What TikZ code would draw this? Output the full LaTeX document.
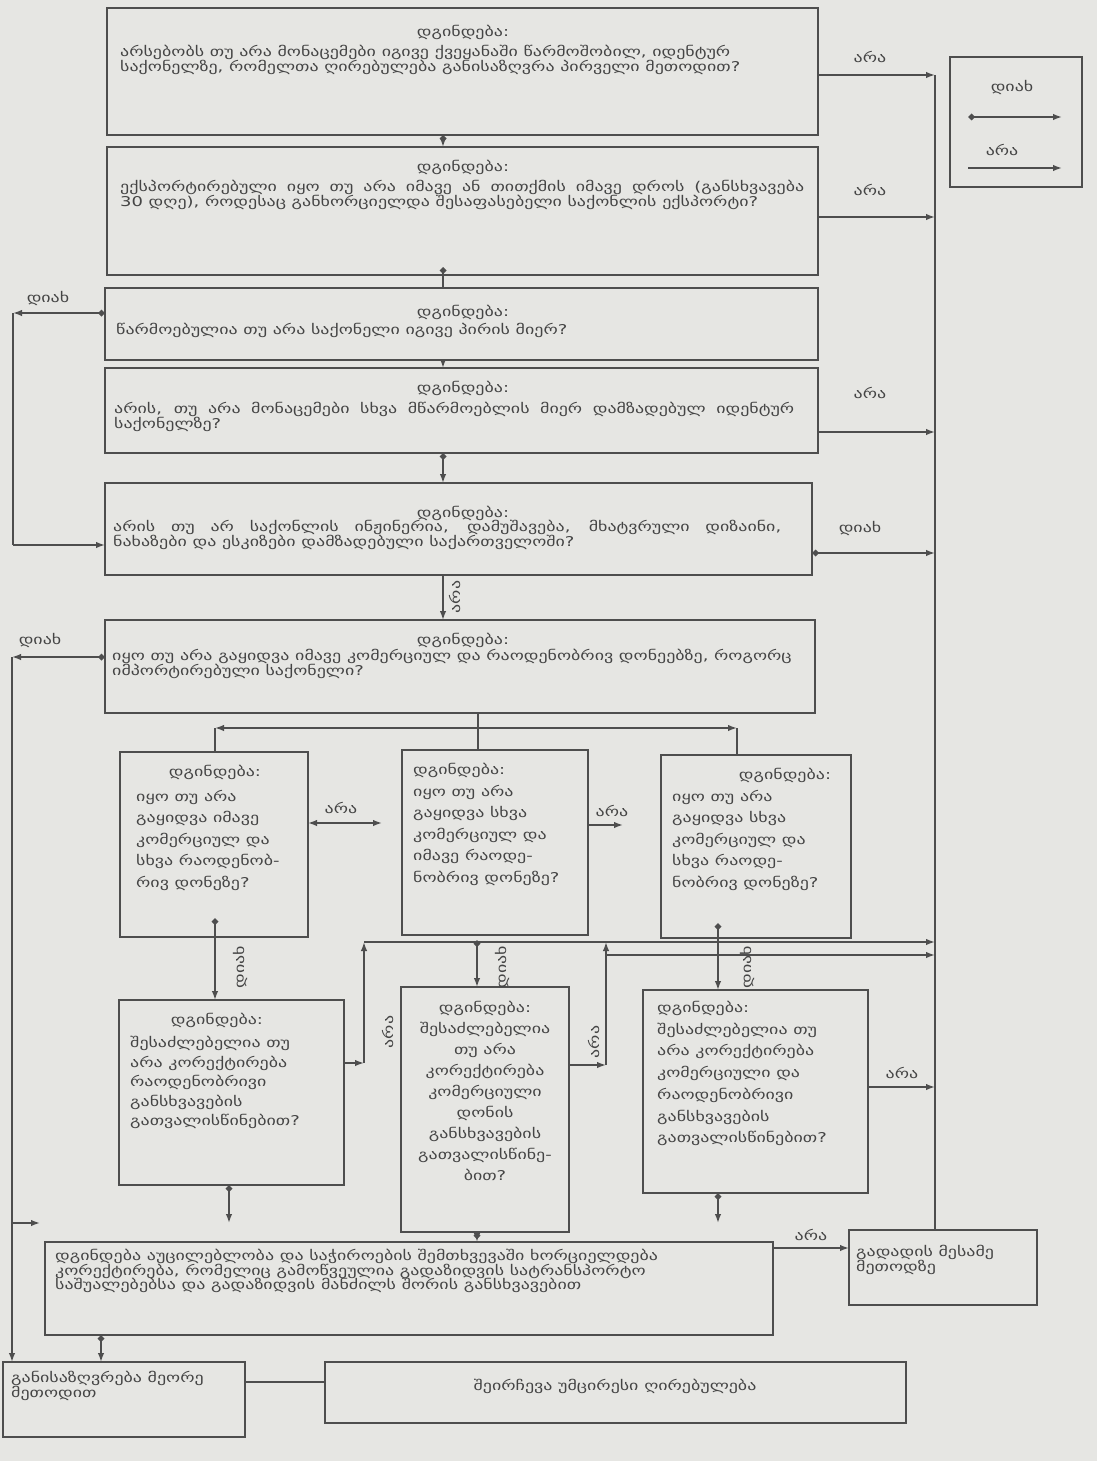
\documentclass[tikz,border=0pt]{standalone}
\usepackage{fontspec}
\setmainfont{DejaVu Sans}[FakeStretch=1.33]
\usetikzlibrary{arrows.meta}
\definecolor{bgc}{HTML}{E6E6E3}
\definecolor{linec}{HTML}{4E4E4E}
\definecolor{textc}{HTML}{454545}
\newcommand\fbig{\fontsize{13.5}{14.5}\selectfont}
\newcommand\fsmall{\fontsize{13.5}{21.5}\selectfont}
\newcommand\mybox[5]{\node[box,minimum width=#4pt,minimum height=#5pt] (#1) at (#2,#3) {};}
\begin{document}
\begin{tikzpicture}[x=1pt,y=-1pt,
  box/.style={draw=linec,line width=1.2pt,anchor=north west,inner sep=0pt,outer sep=0pt},
  ttl/.style={inner sep=0pt,text=textc,font=\fbig},
  bodyL/.style={anchor=north west,inner sep=0pt,text=textc,font=\fbig,align=left},
  bodyJ/.style={anchor=north west,inner sep=0pt,text=textc,font=\fbig,align=justify},
  smallL/.style={anchor=north west,inner sep=0pt,text=textc,font=\fsmall,align=left},
  smallC/.style={anchor=north,inner sep=0pt,text=textc,font=\fsmall,align=center},
  lbl/.style={inner sep=0pt,text=textc,font=\fbig},
  conn/.style={draw=linec,line width=1.6pt},
  no/.style={conn,-{Latex[length=9pt,width=6.5pt]}},
  yes/.style={conn,{Diamond[length=7pt,width=7pt]}-{Latex[length=9pt,width=6.5pt]}},
  yesline/.style={conn,{Diamond[length=7pt,width=7pt]}-},
  both/.style={conn,{Latex[length=9pt,width=6.5pt]}-{Latex[length=9pt,width=6.5pt]}}]
\useasboundingbox (0,0) rectangle (1097,1461);
\fill[bgc] (0,0) rectangle (1097,1461);

% ---- boxes
\mybox{b1}{107}{8}{711}{127}
\mybox{b2}{107}{147}{711}{128}
\mybox{b3}{105}{288}{713}{72}
\mybox{b4}{105}{368}{713}{85}
\mybox{b5}{105}{483}{707}{92}
\mybox{b6}{105}{620}{710}{93}
\mybox{ba}{120}{752}{188}{185}
\mybox{bb}{402}{750}{186}{185}
\mybox{bc}{661}{755}{190}{183}
\mybox{bd}{119}{1000}{225}{185}
\mybox{be}{401}{987}{168}{245}
\mybox{bf}{643}{990}{225}{203}
\mybox{bg}{45}{1242}{728}{93}
\mybox{bh}{849}{1230}{188}{75}
\mybox{bi}{3}{1362}{242}{75}
\mybox{bj}{325}{1362}{581}{61}
\mybox{leg}{950}{57}{132}{130}

% ---- texts
\node[ttl] (h1) at (463,32) {დგინდება:};
\node[bodyL] (t1) at (120,45) {არსებობს თუ არა მონაცემები იგივე ქვეყანაში წარმოშობილ, იდენტურ\\საქონელზე, რომელთა ღირებულება განისაზღვრა პირველი მეთოდით?};
\node[ttl] (h2) at (463,167) {დგინდება:};
\node[bodyJ,text width=684pt] (t2) at (120,180) {ექსპორტირებული იყო თუ არა იმავე ან თითქმის იმავე დროს (განსხვავება\linebreak 30 დღე), როდესაც განხორციელდა შესაფასებელი საქონლის ექსპორტი?};
\node[ttl] (h3) at (463,312) {დგინდება:};
\node[bodyL] (t3) at (116,323) {წარმოებულია თუ არა საქონელი იგივე პირის მიერ?};
\node[ttl] (h4) at (463,388) {დგინდება:};
\node[bodyJ,text width=680pt] (t4) at (114,402) {არის, თუ არა მონაცემები სხვა მწარმოებლის მიერ დამზადებულ იდენტურ\linebreak საქონელზე?};
\node[ttl] (h5) at (463,513) {დგინდება:};
\node[bodyJ,text width=668pt] (t5) at (113,520) {არის თუ არ საქონლის ინჟინერია, დამუშავება, მხატვრული დიზაინი,\linebreak ნახაზები და ესკიზები დამზადებული საქართველოში?};
\node[ttl] (h6) at (463,640) {დგინდება:};
\node[bodyL] (t6) at (112,649) {იყო თუ არა გაყიდვა იმავე კომერციულ და რაოდენობრივ დონეებზე, როგორც\\იმპორტირებული საქონელი?};

\node[ttl] (hA) at (215,772) {დგინდება:};
\node[smallL] (tA) at (136,790) {იყო თუ არა\\გაყიდვა იმავე\\კომერციულ და\\სხვა რაოდენობ-\\რივ დონეზე?};
\node[smallL] (tB) at (413,763) {დგინდება:\\იყო თუ არა\\გაყიდვა სხვა\\კომერციულ და\\იმავე რაოდე-\\ნობრივ დონეზე?};
\node[ttl] (hC) at (785,775) {დგინდება:};
\node[smallL] (tC) at (672,790) {იყო თუ არა\\გაყიდვა სხვა\\კომერციულ და\\სხვა რაოდე-\\ნობრივ დონეზე?};
\node[ttl] (hD) at (217,1020) {დგინდება:};
\node[smallL,font=\fontsize{13.5}{19.5}\selectfont] (tD) at (130,1036) {შესაძლებელია თუ\\არა კორექტირება\\რაოდენობრივი\\განსხვავების\\გათვალისწინებით?};
\node[smallC,font=\fontsize{13.5}{21}\selectfont] (tE) at (485,1001) {დგინდება:\\შესაძლებელია\\თუ არა\\კორექტირება\\კომერციული\\დონის\\განსხვავების\\გათვალისწინე-\\ბით?};
\node[smallL,font=\fontsize{13.5}{21.7}\selectfont] (tF) at (657,1001) {დგინდება:\\შესაძლებელია თუ\\არა კორექტირება\\კომერციული და\\რაოდენობრივი\\განსხვავების\\გათვალისწინებით?};

\node[bodyL] (tG) at (55,1249) {დგინდება აუცილებლობა და საჭიროების შემთხვევაში ხორციელდება\\კორექტირება, რომელიც გამოწვეულია გადაზიდვის სატრანსპორტო\\საშუალებებსა და გადაზიდვის მანძილს შორის განსხვავებით};
\node[bodyL] (tH) at (856,1245) {გადადის მესამე\\მეთოდზე};
\node[bodyL] (tI) at (11,1371) {განისაზღვრება მეორე\\მეთოდით};
\node[ttl] (tJ) at (615,1386) {შეირჩევა უმცირესი ღირებულება};

% ---- labels
\node[lbl] (l1) at (870,57) {არა};
\node[lbl] (l2) at (870,190) {არა};
\node[lbl] (l4) at (870,393) {არა};
\node[lbl] (l5) at (860,528) {დიახ};
\node[lbl] (l3) at (48,298) {დიახ};
\node[lbl] (l6) at (40,640) {დიახ};
\node[lbl] (lab) at (341,808) {არა};
\node[lbl] (lbc) at (612,811) {არა};
\node[lbl,rotate=90] (lad) at (240,967) {დიახ};
\node[lbl,rotate=90] (lbe) at (502,967) {დიახ};
\node[lbl,rotate=90] (lcf) at (747,967) {დიახ};
\node[lbl,rotate=90] (l56) at (455,597) {არა};
\node[lbl,rotate=90] (ld) at (388,1032) {არა};
\node[lbl,rotate=90] (le) at (594,1042) {არა};
\node[lbl] (lf) at (902,1073) {არა};
\node[lbl] (lg) at (811,1235) {არა};
\node[lbl] (lgy) at (1012,87) {დიახ};
\node[lbl] (lgn) at (1002,150) {არა};

% ---- coordinates
\coordinate (r1) at (935,75);
\coordinate (r2) at (935,217);
\coordinate (r4) at (935,432);
\coordinate (r5) at (935,553);
\coordinate (r6) at (935,942);
\coordinate (r7) at (935,955);
\coordinate (r8) at (935,1087);
\coordinate (l3c) at (13,313);
\coordinate (l5c) at (13,545);
\coordinate (l6c) at (12,657);
\coordinate (l7c) at (12,1223);
\coordinate (l7e) at (40,1223);
\coordinate (cx) at (443,0);
\coordinate (d23) at (443,267);
\coordinate (jc) at (478,728);
\coordinate (jl) at (215,728);
\coordinate (jr) at (737,728);
\coordinate (dA) at (215,918);
\coordinate (dB) at (477,940);
\coordinate (dC) at (718,923);
\coordinate (dD) at (229,1185);
\coordinate (eD) at (229,1223);
\coordinate (dE) at (477,1232);
\coordinate (dF) at (718,1193);
\coordinate (eF) at (718,1223);
\coordinate (kD) at (364,1063);
\coordinate (kDt) at (364,942);
\coordinate (kE) at (606,1065);
\coordinate (kEt) at (606,942);
\coordinate (kEm) at (606,955);
\coordinate (gH) at (101,1335);
\coordinate (ga1) at (968,117);
\coordinate (gb1) at (1062,117);
\coordinate (ga2) at (968,168);
\coordinate (gb2) at (1062,168);

% ---- right trunk
\draw[conn] (r1) -- (r1 |- bh.north);
\draw[no] (b1.east |- r1) -- (r1);
\draw[no] (b2.east |- r2) -- (r2);
\draw[no] (b4.east |- r4) -- (r4);
\draw[yes] (b5.east |- r5) -- (r5);
\draw[no] (bf.east |- r8) -- (r8);

% ---- vertical chain
\draw[yes] (cx |- b1.south) -- (cx |- b2.north);
\draw[yesline] (d23) -- (d23 |- b3.north);
\draw[no] (cx |- b3.south) -- (cx |- b4.north);
\draw[yes] (cx |- b4.south) -- (cx |- b5.north);
\draw[no] (cx |- b5.south) -- (cx |- b6.north);

% ---- left side
\draw[yes] (b3.west |- l3c) -- (l3c);
\draw[conn] (l3c) -- (l5c);
\draw[no] (l5c) -- (l5c -| b5.west);
\draw[yes] (b6.west |- l6c) -- (l6c);
\draw[no] (l6c) -- (l6c |- bi.north);
\draw[no] (l7c) -- (l7e);

% ---- fan out to three boxes
\draw[conn] (jc |- b6.south) -- (jc |- bb.north);
\draw[no] (jc) -- (jl);
\draw[conn] (jl) -- (jl |- ba.north);
\draw[no] (jc) -- (jr);
\draw[conn] (jr) -- (jr |- bc.north);
\draw[both] (ba.east |- 0,823) -- (382,823);
\draw[no] (bb.east |- 0,825) -- (623,825);

% ---- yes branches down
\draw[yes] (dA) -- (dA |- bd.north);
\draw[yes] (dB) -- (dB |- be.north);
\draw[yes] (dC) -- (dC |- bf.north);

% ---- no branches to trunk
\draw[no] (bd.east |- kD) -- (kD);
\draw[no] (kD) -- (kDt);
\draw[no] (kDt) -- (r6);
\draw[no] (be.east |- kE) -- (kE);
\draw[no] (kE) -- (kEt);
\draw[no] (kEm) -- (r7);

% ---- to bottom box
\draw[yes] (dD) -- (eD);
\draw[yes] (dE) -- (dE |- bg.north);
\draw[yes] (dF) -- (eF);
\draw[no] (bg.east |- 0,1248) -- (bh.west |- 0,1248);
\draw[yes] (gH) -- (gH |- bi.north);
\draw[conn,line width=1.2pt] (bi.east |- 0,1382) -- (bj.west |- 0,1382);

% ---- legend
\draw[yes] (ga1) -- (gb1);
\draw[no] (ga2) -- (gb2);
\end{tikzpicture}
\end{document}
